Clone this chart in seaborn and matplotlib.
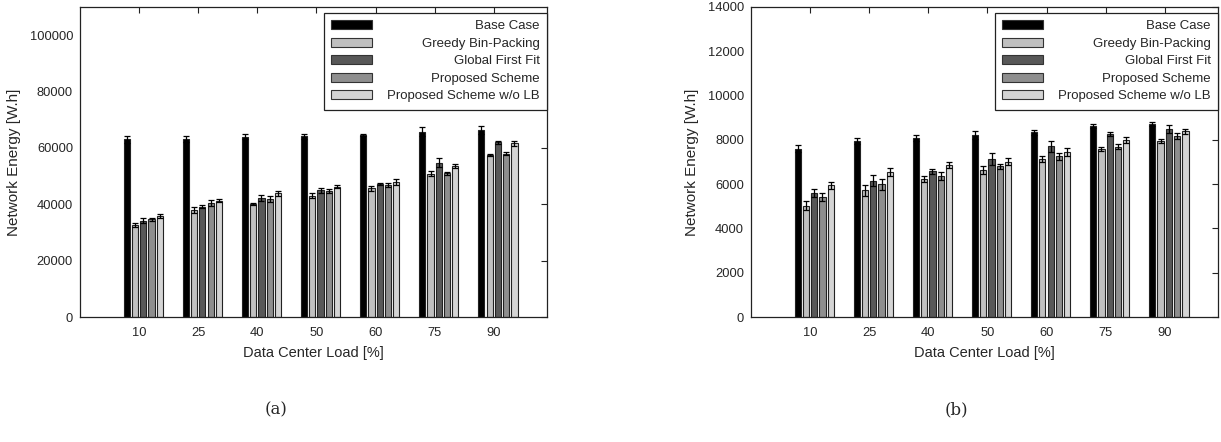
import pandas as pd
import matplotlib
matplotlib.use("Agg")
import matplotlib.pyplot as plt
import matplotlib.patches as mpatches
import seaborn as sns

# data
loads = ['10', '25', '40', '50', '60', '75', '90']
schemes = ['Base Case', 'Greedy Bin-Packing', 'Global First Fit',
           'Proposed Scheme', 'Proposed Scheme w/o LB']
colors = ['#000000', '#c0c0c0', '#585858', '#8e8e8e', '#d4d4d4']

# (a)
base_a = [63100, 63300, 64000, 64200, 64700, 65800, 66400]
base_a_err = [1300, 1100, 900, 900, 400, 1500, 1300]
greedy_a = [32500, 37900, 40100, 43100, 45700, 50900, 57500]
greedy_a_err = [700, 1000, 300, 1000, 900, 800, 400]
gff_a = [34200, 39200, 42200, 44900, 47300, 54800, 62000]
gff_a_err = [800, 700, 1000, 900, 300, 1500, 600]
prop_a = [34700, 40500, 41900, 44700, 46700, 51000, 58000]
prop_a_err = [600, 1000, 1000, 700, 700, 600, 500]
nolb_a = [35900, 41300, 43900, 46300, 48000, 53500, 61700]
nolb_a_err = [800, 500, 900, 600, 1000, 700, 900]

# (b)
base_b = [7600, 7930, 8080, 8220, 8340, 8620, 8720]
base_b_err = [150, 140, 150, 200, 120, 100, 80]
greedy_b = [5020, 5730, 6240, 6650, 7130, 7590, 7940]
greedy_b_err = [200, 250, 150, 170, 120, 80, 100]
gff_b = [5590, 6150, 6590, 7130, 7710, 8260, 8490]
gff_b_err = [170, 250, 110, 280, 240, 100, 170]
prop_b = [5410, 5990, 6360, 6810, 7260, 7690, 8160]
prop_b_err = [170, 240, 180, 110, 160, 110, 140]
nolb_b = [5950, 6550, 6850, 7020, 7440, 7990, 8390]
nolb_b_err = [150, 190, 140, 140, 190, 150, 120]

sns.set_theme(style='white')
plt.rcParams['font.family'] = ['Liberation Sans', 'DejaVu Sans']

fig = plt.figure(figsize=(12.21, 4.42), dpi=100)
ax_a = fig.add_axes([0.0655, 0.2828, 0.3825, 0.7014])
ax_b = fig.add_axes([0.615, 0.2828, 0.3825, 0.7014])


def make_df(series):
    rows = []
    for name, vals in zip(schemes, series):
        for load, v in zip(loads, vals):
            rows.append({'load': load, 'scheme': name, 'energy': v})
    return pd.DataFrame(rows)


def draw_panel(ax, series, errors, ymax, ystep):
    df = make_df(series)
    sns.barplot(data=df, x='load', y='energy', hue='scheme', order=loads,
                hue_order=schemes, palette=colors, errorbar=None,
                width=0.7, gap=0.25, edgecolor='#222222', linewidth=0.8,
                saturation=1, ax=ax)
    # gnuplot puts the cluster slightly right of the tick
    for cont, errs in zip(ax.containers, errors):
        xs, ys = [], []
        for bar in cont:
            bar.set_x(bar.get_x() + 0.07)
            xs.append(bar.get_x() + bar.get_width() / 2)
            ys.append(bar.get_height())
        ax.errorbar(xs, ys, yerr=errs, fmt='none', ecolor='black',
                    elinewidth=0.9, capsize=2.3, capthick=0.9, zorder=3)
    ax.set_xlim(-1, 6.9)
    ax.set_ylim(0, ymax)
    ax.set_yticks(range(0, ymax if ymax % ystep else ymax + 1, ystep))
    ax.set_xlabel('Data Center Load [%]', fontsize=10.5, labelpad=5)
    ax.set_ylabel('Network Energy [W.h]', fontsize=11, labelpad=6)
    ax.tick_params(axis='both', direction='in', length=4.5, width=0.8,
                   top=True, right=True, labelsize=9.3, color='#222222')
    ax.tick_params(axis='x', pad=7)
    ax.tick_params(axis='y', pad=5)
    ax.set_axisbelow(False)
    for s in ax.spines.values():
        s.set_color('#222222')
        s.set_linewidth(0.9)
    ax.get_legend().remove()
    handles = [mpatches.Patch(facecolor=c, edgecolor='#333333', linewidth=0.8)
               for c in colors]
    leg = ax.legend(handles, schemes, loc='upper right',
                    bbox_to_anchor=(1.0, 0.981), borderaxespad=0,
                    fontsize=9.5, handlelength=3.1, handleheight=0.65,
                    labelspacing=0.42, borderpad=0.55, handletextpad=1.0,
                    fancybox=False, framealpha=1, edgecolor='#222222')
    leg.get_frame().set_linewidth(0.9)
    return leg


leg_a = draw_panel(ax_a, [base_a, greedy_a, gff_a, prop_a, nolb_a],
                   [base_a_err, greedy_a_err, gff_a_err, prop_a_err, nolb_a_err],
                   110000, 20000)
leg_b = draw_panel(ax_b, [base_b, greedy_b, gff_b, prop_b, nolb_b],
                   [base_b_err, greedy_b_err, gff_b_err, prop_b_err, nolb_b_err],
                   14000, 2000)

# right-justify the key texts like gnuplot does, with a fixed key width
fig.canvas.draw()
r = fig.canvas.get_renderer()
for leg in (leg_a, leg_b):
    fs_px = leg._fontsize * fig.dpi / 72
    inner = 223 - 2 * leg.borderpad * fs_px
    rows = leg._legend_handle_box.get_children()[0].get_children()
    for row, t in zip(rows, leg.get_texts()):
        w = t.get_window_extent(r).width
        row.sep = (inner - leg.handlelength * fs_px - w) * 72 / fig.dpi

fig.text(276 / 1221, 1 - 410 / 442, '(a)', ha='center', va='center',
         fontsize=12, family='DejaVu Serif')
fig.text(956 / 1221, 1 - 410 / 442, '(b)', ha='center', va='center',
         fontsize=12, family='DejaVu Serif')

fig.savefig('out.png', dpi=100)
